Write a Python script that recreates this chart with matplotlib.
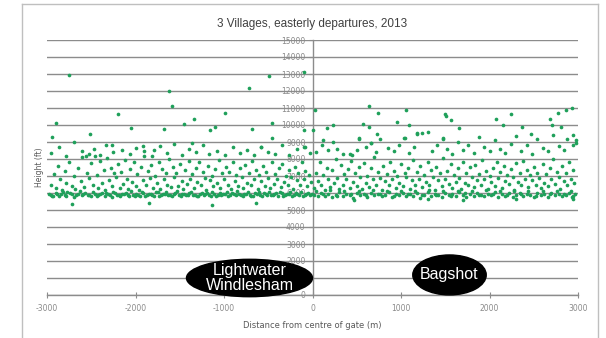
import numpy as np
import matplotlib
matplotlib.use("Agg")
import matplotlib.pyplot as plt
from matplotlib.patches import Ellipse
from matplotlib.lines import Line2D

# departures, (distance from gate centre in m, height in ft)
band_left = [(-2960, 5900), (-2930, 5850), (-2900, 6000), (-2870, 5800), (-2840, 5950), (-2800, 5880),
             (-2770, 6050), (-2720, 5920), (-2690, 5780), (-2650, 5970), (-2610, 5860), (-2570, 6020),
             (-2540, 5900), (-2500, 5820), (-2460, 5960), (-2420, 5880), (-2380, 6000), (-2350, 5850),
             (-2310, 5930), (-2270, 5790), (-2230, 5980), (-2190, 5870), (-2150, 5940), (-2110, 6010),
             (-2070, 5830), (-2030, 5900), (-1990, 5960), (-1950, 5850), (-1910, 5990), (-1870, 5880),
             (-1830, 5920), (-1790, 5810), (-1750, 6030), (-1710, 5870), (-1670, 5950), (-1630, 5900),
             (-1590, 5840), (-1550, 5980), (-1510, 5890), (-1470, 5930), (-1430, 5860), (-1390, 6000),
             (-1350, 5910), (-1310, 5820), (-1270, 5950), (-1230, 5880), (-1190, 5990), (-1150, 5850),
             (-1110, 5930), (-1070, 5900), (-1030, 5870), (-990, 5960), (-950, 5820), (-910, 6010),
             (-870, 5890), (-830, 5940), (-790, 5850), (-750, 5970), (-710, 5900), (-670, 5830),
             (-630, 5960), (-590, 5880), (-550, 6020), (-510, 5860), (-470, 5910), (-430, 5950),
             (-390, 5800), (-350, 5990), (-310, 5870), (-270, 5920), (-230, 5850), (-190, 5980),
             (-150, 5900), (-110, 5840), (-70, 5960), (-30, 5890)]

band_left2 = [(-2980, 5960), (-2945, 5820), (-2885, 5920), (-2820, 6080), (-2785, 5840), (-2740, 5990),
              (-2670, 5880), (-2630, 6100), (-2590, 5940), (-2520, 5870), (-2480, 6060), (-2440, 5810),
              (-2400, 5920), (-2330, 5990), (-2290, 5860), (-2250, 6070), (-2210, 5900), (-2170, 5830),
              (-2130, 5970), (-2090, 5880), (-2050, 6090), (-2010, 5850), (-1970, 5910), (-1930, 6040),
              (-1890, 5830), (-1850, 5960), (-1810, 5900), (-1770, 6080), (-1730, 5850), (-1690, 5920),
              (-1650, 6050), (-1610, 5870), (-1570, 5930), (-1530, 6090), (-1490, 5820), (-1450, 5970),
              (-1410, 5880), (-1370, 6060), (-1330, 5900), (-1290, 5840), (-1250, 6020), (-1210, 5930),
              (-1170, 5870), (-1130, 6080), (-1090, 5810), (-1050, 5980), (-1010, 5920), (-970, 6060),
              (-930, 5860), (-890, 5950), (-850, 6090), (-810, 5880), (-770, 5920), (-730, 6040),
              (-690, 5850), (-650, 5980), (-610, 6070), (-570, 5830), (-530, 5940), (-490, 6050),
              (-450, 5870), (-410, 5990), (-370, 6080), (-330, 5840), (-290, 5960), (-250, 6060),
              (-210, 5880), (-170, 5930), (-130, 6040), (-90, 5860), (-50, 5990), (-10, 5930)]

band_right = [(20, 5900), (60, 5800), (100, 6000), (140, 5850), (180, 5950), (220, 5750), (260, 5900),
              (300, 6050), (340, 5820), (380, 5960), (420, 5880), (460, 5700), (500, 5990), (540, 5860),
              (580, 5930), (620, 5780), (660, 6020), (700, 5890), (740, 5950), (780, 5830), (820, 5900),
              (860, 6050), (900, 5760), (940, 5940), (980, 5870), (1020, 6010), (1060, 5800), (1100, 5920),
              (1140, 5850), (1180, 5980), (1220, 5720), (1260, 5900), (1300, 6040), (1340, 5830),
              (1380, 5950), (1420, 5870), (1460, 5780), (1500, 5990), (1540, 5880), (1580, 5930),
              (1620, 5810), (1660, 6030), (1700, 5900), (1740, 5760), (1780, 5960), (1820, 5850),
              (1860, 6010), (1900, 5890), (1940, 5800), (1980, 5940), (2020, 5870), (2060, 6050),
              (2100, 5780), (2140, 5920), (2180, 5850), (2220, 5990), (2260, 5740), (2300, 5900),
              (2340, 6020), (2380, 5830), (2420, 5960), (2460, 5880), (2500, 5790), (2540, 5980),
              (2580, 5860), (2620, 5930), (2660, 5770), (2700, 6010), (2740, 5890), (2780, 5950),
              (2820, 5820), (2860, 5900), (2900, 5980), (2940, 5850)]

band_right2 = [(40, 6100), (120, 5960), (200, 6150), (280, 5850), (360, 6100), (440, 5930), (520, 6120),
               (600, 5880), (680, 6150), (760, 5970), (840, 6110), (920, 5850), (1000, 6130), (1080, 5960),
               (1160, 6100), (1240, 5880), (1320, 6150), (1400, 5910), (1480, 6090), (1560, 5840),
               (1640, 6140), (1720, 5980), (1800, 6100), (1880, 5860), (1960, 6150), (2040, 5930),
               (2120, 6120), (2200, 5880), (2280, 6090), (2360, 5960), (2440, 6140), (2520, 5850),
               (2600, 6100), (2680, 5920), (2760, 6130), (2840, 5970), (2920, 6100), (2970, 5930)]

mid_left = [(-2950, 6500), (-2920, 7100), (-2900, 6300), (-2880, 7600), (-2850, 6800), (-2830, 6200),
            (-2800, 7300), (-2780, 6600), (-2750, 7850), (-2720, 6400), (-2700, 7000), (-2680, 6250),
            (-2650, 7450), (-2620, 6700), (-2600, 8100), (-2580, 6350), (-2550, 7200), (-2530, 6900),
            (-2500, 7750), (-2480, 6450), (-2460, 8200), (-2440, 7050), (-2420, 6300), (-2400, 7900),
            (-2380, 6600), (-2360, 7350), (-2340, 6200), (-2320, 8050), (-2300, 6750), (-2280, 7500),
            (-2260, 6400), (-2240, 7150), (-2220, 6950), (-2200, 7700), (-2180, 6300), (-2160, 7250),
            (-2140, 6550), (-2120, 7950), (-2100, 6850), (-2080, 6250), (-2060, 7400), (-2040, 6650),
            (-2020, 7800), (-2000, 6400), (-1980, 7100), (-1960, 6200), (-1940, 7550), (-1920, 6750),
            (-1900, 8150), (-1880, 6450), (-1860, 7300), (-1840, 6900), (-1820, 7650), (-1800, 6300),
            (-1780, 7000), (-1760, 6600), (-1740, 7850), (-1720, 6250), (-1700, 7400), (-1680, 6800),
            (-1660, 7200), (-1640, 6500), (-1620, 8000), (-1600, 6350), (-1580, 7550), (-1560, 6950),
            (-1540, 7150), (-1520, 6400), (-1500, 7700), (-1480, 6700), (-1460, 6250), (-1440, 7350),
            (-1420, 6550), (-1400, 7900), (-1380, 6850), (-1360, 7100), (-1340, 6300), (-1320, 7500),
            (-1300, 6650), (-1280, 7800), (-1260, 6450), (-1240, 7250), (-1220, 6900), (-1200, 6200),
            (-1180, 7600), (-1160, 6750), (-1140, 7000), (-1120, 6400), (-1100, 7400), (-1080, 6600),
            (-1060, 7950), (-1040, 6300), (-1020, 7150), (-1000, 6850), (-980, 7550), (-960, 6500),
            (-940, 7250), (-920, 6250), (-900, 7800), (-880, 6700), (-860, 7050), (-840, 6400),
            (-820, 7450), (-800, 6950), (-780, 6300), (-760, 7650), (-740, 6600), (-720, 7200),
            (-700, 6450), (-680, 7900), (-660, 6800), (-640, 7350), (-620, 6250), (-600, 7050),
            (-580, 6700), (-560, 7600), (-540, 6400), (-520, 7250), (-500, 6900), (-480, 6300),
            (-460, 7800), (-440, 6550), (-420, 7100), (-400, 6850), (-380, 7450), (-360, 6350),
            (-340, 7700), (-320, 6650), (-300, 7000), (-280, 6450), (-260, 7350), (-240, 6950),
            (-220, 6250), (-200, 7550), (-180, 6750), (-160, 7150), (-140, 6500), (-120, 7850),
            (-100, 6850), (-80, 7300), (-60, 6400), (-40, 7050), (-20, 6650)]

mid_right = [(20, 6300), (40, 7200), (60, 6700), (80, 7800), (100, 6450), (120, 7050), (140, 6200),
             (160, 7500), (180, 6850), (200, 6350), (220, 7350), (240, 6600), (260, 8000), (280, 6900),
             (300, 6250), (320, 7650), (340, 6500), (360, 7100), (380, 6800), (400, 7400), (420, 6300),
             (440, 7900), (460, 6650), (480, 7200), (500, 6400), (520, 7550), (540, 6950), (560, 6250),
             (580, 7750), (600, 6600), (620, 7000), (640, 6350), (660, 7450), (680, 6800), (700, 8100),
             (720, 6500), (740, 7250), (760, 6900), (780, 6200), (800, 7600), (820, 6700), (840, 7100),
             (860, 6450), (880, 7850), (900, 6850), (920, 7300), (940, 6300), (960, 7000), (980, 6600),
             (1000, 7700), (1020, 6400), (1040, 7150), (1060, 6950), (1080, 7500), (1100, 6250),
             (1120, 6750), (1140, 7950), (1160, 6500), (1180, 7250), (1200, 6850), (1220, 7600),
             (1240, 6350), (1260, 7050), (1280, 6650), (1300, 7800), (1320, 6450), (1340, 7350),
             (1360, 6950), (1380, 6200), (1400, 7550), (1420, 6750), (1440, 7150), (1460, 6400),
             (1480, 8050), (1500, 6850), (1520, 7300), (1540, 6550), (1560, 7700), (1580, 6300),
             (1600, 7050), (1620, 6650), (1640, 7450), (1660, 6900), (1680, 6250), (1700, 7850),
             (1720, 6600), (1740, 7200), (1760, 6450), (1780, 7550), (1800, 6950), (1820, 6350),
             (1840, 7650), (1860, 6750), (1880, 7100), (1900, 6500), (1920, 7950), (1940, 6850),
             (1960, 7300), (1980, 6250), (2000, 7000), (2020, 6650), (2040, 7500), (2060, 6400),
             (2080, 7800), (2100, 6900), (2120, 7250), (2140, 6300), (2160, 7600), (2180, 6700),
             (2200, 7050), (2220, 6550), (2240, 7400), (2260, 6950), (2280, 6200), (2300, 7750),
             (2320, 6650), (2340, 7150), (2360, 6450), (2380, 7900), (2400, 6800), (2420, 7350),
             (2440, 6350), (2460, 7050), (2480, 6750), (2500, 7550), (2520, 6500), (2540, 7200),
             (2560, 6900), (2580, 6300), (2600, 7700), (2620, 6600), (2640, 7100), (2660, 6400),
             (2680, 7450), (2700, 6850), (2720, 8000), (2740, 6550), (2760, 7250), (2780, 6950),
             (2800, 6250), (2820, 7600), (2840, 6700), (2860, 7150), (2880, 6450), (2900, 7850),
             (2920, 6800), (2940, 7350), (2960, 6600)]

upper_left = [(-2950, 8350), (-2870, 8700), (-2780, 8200), (-2700, 9000), (-2600, 8450), (-2560, 8150),
              (-2520, 8300), (-2470, 8600), (-2400, 8250), (-2330, 8800), (-2250, 8400), (-2150, 8550),
              (-2060, 8300), (-1990, 8650), (-1900, 8450), (-1810, 8200), (-1720, 8750), (-1640, 8350),
              (-1560, 8900), (-1480, 8250), (-1400, 8600), (-1320, 8400), (-1240, 8800), (-1170, 8300),
              (-1080, 8500), (-990, 8250), (-900, 8700), (-820, 8350), (-740, 8550), (-660, 8250),
              (-580, 8700), (-500, 8400), (-420, 8300), (-340, 8850), (-260, 8250), (-180, 8600),
              (-90, 8700), (-30, 8350)]

upper_right = [(40, 8400), (110, 8800), (170, 8550), (230, 9000), (280, 8600), (350, 8300), (420, 8300),
               (450, 8250), (500, 8550), (530, 9200), (600, 8700), (660, 8950), (720, 8400), (760, 9150),
               (850, 8650), (920, 8500), (980, 8850), (1040, 9250), (1090, 8350), (1150, 8700),
               (1180, 9500), (1240, 9550), (1300, 9600), (1350, 8450), (1410, 8800), (1470, 9200),
               (1520, 8600), (1580, 8300), (1640, 9000), (1700, 8550), (1760, 8850), (1820, 8350),
               (1880, 9300), (1940, 8700), (2000, 8450), (2060, 9100), (2120, 8600), (2180, 8350),
               (2240, 8900), (2300, 9350), (2360, 8500), (2420, 8800), (2480, 8300), (2540, 9150),
               (2600, 8650), (2660, 8450), (2720, 9400), (2780, 8750), (2840, 8550), (2880, 9200),
               (2940, 8800), (2980, 9100)]

outliers = [(-2750, 12960), (-1627, 12020), (-1590, 11135), (-2196, 10650), (-2900, 10100),
            (-2054, 9820), (-1676, 9750), (-2945, 9275), (-2512, 9450), (-2271, 8820), (-1910, 8780),
            (-1789, 8530), (-2712, 5330), (-1850, 5390), (-497, 12900), (-100, 13100), (-716, 12160),
            (-987, 10720), (-1337, 10330), (-1450, 10060), (-1160, 9700), (-1100, 9900), (-686, 9750),
            (-452, 10100), (-452, 9250), (-94, 9700), (-1356, 8920), (-584, 8690), (-94, 8690),
            (-1130, 5290), (-640, 5390), (640, 11140), (26, 10880), (742, 10720), (1055, 10880),
            (1500, 10630), (960, 10200), (11, 9700), (162, 9800), (226, 10000), (565, 10060),
            (633, 9900), (1093, 10000), (727, 9470), (1179, 9510), (113, 9120), (528, 9220),
            (660, 8960), (1036, 9250), (1469, 9220), (2769, 10720), (2863, 10880), (2931, 10980),
            (2241, 10630), (2079, 10330), (1570, 10290), (1507, 10550), (1650, 9850), (2147, 10000),
            (2362, 9900), (2470, 9500), (2682, 10330), (2704, 10000), (2806, 9900), (2938, 9410),
            (2975, 8920), (2931, 5780), (2938, 5650), (470, 5600), (1300, 5650), (1700, 5600),
            (2300, 5620)]

x_ticks = [-3000, -2000, -1000, 0, 1000, 2000, 3000]
y_ticks = list(range(0, 15001, 1000))

# village labels: name, centre x, centre y, width, height (data units)
villages = [("Lightwater\nWindlesham", -712, 1000, 1424, 2200),
            ("Bagshot", 1548, 1180, 830, 2350)]

GREEN = "#1fa05a"
GREY = "#8c8c8c"


def main():
    groups = [band_left, band_left2, band_right, band_right2, mid_left, mid_right,
              upper_left, upper_right, outliers]
    pts = np.array([p for g in groups for p in g])

    fig = plt.figure(figsize=(6.06, 3.38), dpi=100)
    ax = fig.add_axes([47 / 606, 1 - 295 / 338, 531 / 606, 255 / 338])

    ax.scatter(pts[:, 0], pts[:, 1], s=7, color=GREEN, linewidths=0, zorder=3)

    ax.set_xlim(-3000, 3000)
    ax.set_ylim(0, 15000)
    ax.set_xticks(x_ticks)
    ax.set_yticks(y_ticks)
    ax.set_xticklabels([str(v) for v in x_ticks])
    ax.set_yticklabels([str(v) for v in y_ticks])

    for s in ["top", "right"]:
        ax.spines[s].set_visible(False)
    ax.spines["left"].set_position(("data", 0))
    ax.spines["left"].set_color(GREY)
    ax.spines["bottom"].set_color(GREY)
    ax.spines["left"].set_linewidth(1.0)
    ax.spines["bottom"].set_linewidth(1.0)
    ax.yaxis.grid(True, color=GREY, linewidth=1.0, zorder=0)
    ax.set_axisbelow(True)

    ax.tick_params(axis="x", direction="inout", length=5, color=GREY, labelsize=5.5,
                   labelcolor="#8a8a8a", pad=4)
    ax.tick_params(axis="y", direction="out", length=3, color=GREY, labelsize=5.5,
                   labelcolor="#8a8a8a", pad=2)

    ax.set_title("3 Villages, easterly departures, 2013", fontsize=8.5, color="#404040",
                 family="Liberation Sans", pad=9)
    ax.set_xlabel("Distance from centre of gate (m)", fontsize=6, color="#595959", labelpad=6)
    fig.text(40 / 606, 1 - 167 / 338, "Height (ft)", rotation=90, fontsize=5.5,
             color="#595959", ha="center", va="center")

    for name, cx, cy, w, h in villages:
        ax.add_patch(Ellipse((cx, cy), w, h, facecolor="black", edgecolor="black",
                             zorder=5, clip_on=False))
        ax.text(cx, cy, name, color="white", fontsize=11.5, family="Liberation Sans",
                ha="center", va="center", linespacing=1.0, zorder=6)

    # chart border
    bc = "#bfbfbf"
    fig.add_artist(Line2D([22 / 606, 22 / 606], [0, 1 - 4 / 338], color=bc, lw=1.0))
    fig.add_artist(Line2D([598 / 606, 598 / 606], [0, 1 - 4 / 338], color=bc, lw=1.0))
    fig.add_artist(Line2D([22 / 606, 598 / 606], [1 - 4 / 338, 1 - 4 / 338], color=bc, lw=1.0))

    fig.savefig("out.png", dpi=100)


if __name__ == "__main__":
    main()
